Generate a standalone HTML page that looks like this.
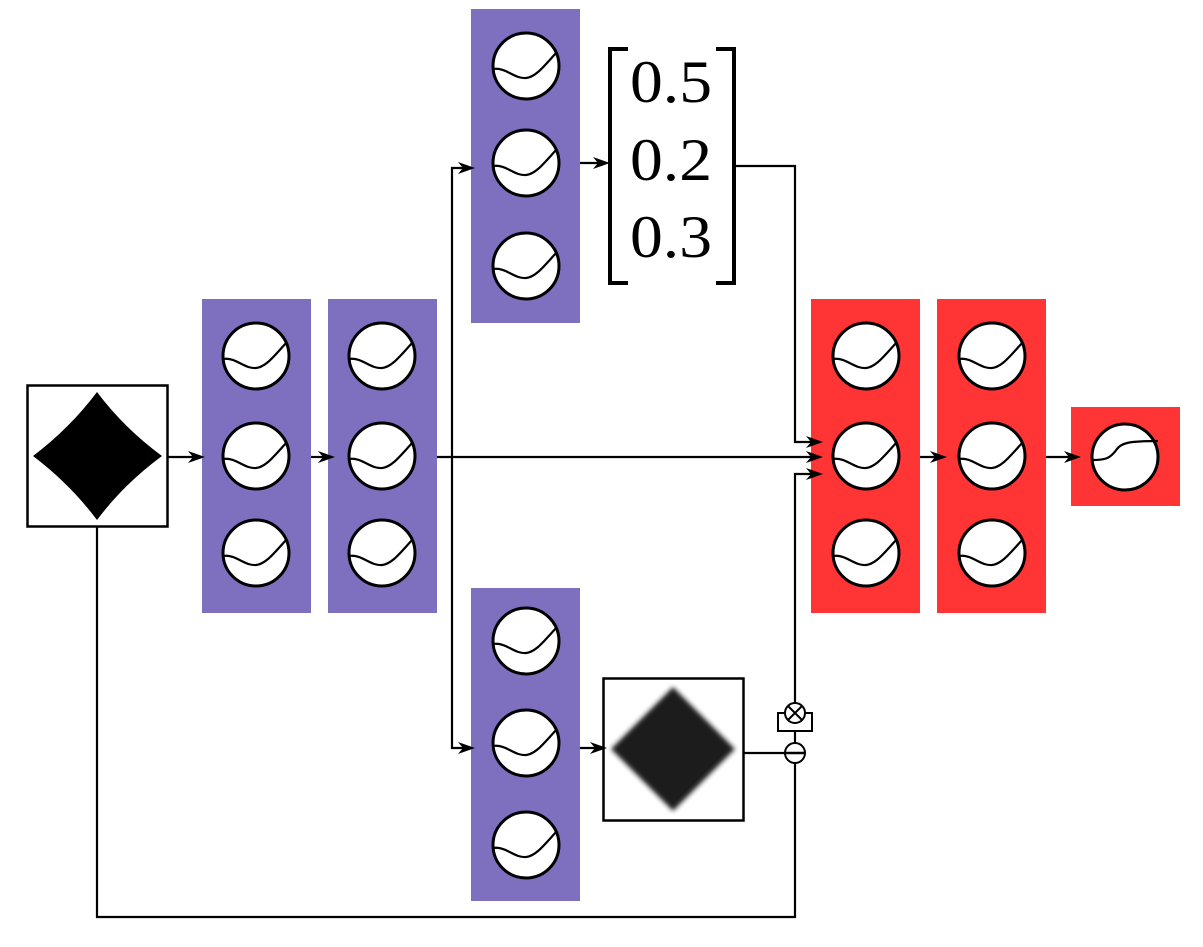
<!DOCTYPE html>
<html><head><style>html,body{margin:0;padding:0;background:#fff}svg{display:block}
.m{font-family:"Liberation Serif","DejaVu Serif",serif;font-size:60px;fill:#000}</style></head>
<body>
<svg width="1203" height="947" viewBox="0 0 1203 947" xmlns="http://www.w3.org/2000/svg">
<defs>
<path id="ah" d="M0,0 L-17,-6 L-12,0 L-17,6 Z" fill="#000"/>
<g id="n">
<circle cx="0" cy="0" r="33" fill="#fff" stroke="#000" stroke-width="3"/>
<path d="M-33,3 C-20,1 -12,13 0,12 C10,11 18,0 31,-14" fill="none" stroke="#000" stroke-width="2.2"/>
</g>
<filter id="bl" x="-20%" y="-20%" width="140%" height="140%"><feGaussianBlur stdDeviation="2.5"/></filter>
</defs>

<rect x="202" y="299" width="109" height="314" fill="#7f6fbf"/>
<rect x="328" y="299" width="109" height="314" fill="#7f6fbf"/>
<rect x="471" y="9" width="109" height="314" fill="#7f6fbf"/>
<rect x="471" y="588" width="109" height="313" fill="#7f6fbf"/>
<rect x="811" y="299" width="109" height="314" fill="#ff3535"/>
<rect x="937" y="299" width="109" height="314" fill="#ff3535"/>
<rect x="1071" y="407" width="109" height="99" fill="#ff3535"/>

<use href="#n" x="256" y="356"/><use href="#n" x="256" y="456"/><use href="#n" x="256" y="553"/>
<use href="#n" x="382" y="356"/><use href="#n" x="382" y="456"/><use href="#n" x="382" y="553"/>
<use href="#n" x="526" y="66"/><use href="#n" x="526" y="163"/><use href="#n" x="526" y="266"/>
<use href="#n" x="526" y="641"/><use href="#n" x="526" y="743"/><use href="#n" x="526" y="845"/>
<use href="#n" x="866" y="356"/><use href="#n" x="866" y="456"/><use href="#n" x="866" y="553"/>
<use href="#n" x="992" y="356"/><use href="#n" x="992" y="456"/><use href="#n" x="992" y="553"/>
<circle cx="1125" cy="457" r="33" fill="#fff" stroke="#000" stroke-width="3"/>
<path d="M-33,3 C-20,3 -15,2 -8,-8 C-3,-15 8,-16 33,-16" transform="translate(1125,457)" fill="none" stroke="#000" stroke-width="2.2"/>

<rect x="27.5" y="385.5" width="140" height="141" fill="#fff" stroke="#000" stroke-width="2.5"/>
<path d="M97,392 Q124,428 162,456 Q124,484 97,520 Q70,484 33,456 Q70,428 97,392 Z" fill="#000"/>

<rect x="603.5" y="678.5" width="140" height="142" fill="#fff" stroke="#000" stroke-width="2.5"/>
<path d="M673,687 L735,749 L673,811 L611,749 Z" fill="#1e1e1e" filter="url(#bl)"/>

<path d="M628,49 L610,49 L610,283 L628,283" fill="none" stroke="#000" stroke-width="4"/>
<path d="M716,49 L734,49 L734,283 L716,283" fill="none" stroke="#000" stroke-width="4"/>
<text class="m" x="630" y="102" textLength="82" lengthAdjust="spacingAndGlyphs">0.5</text>
<text class="m" x="630" y="180" textLength="82" lengthAdjust="spacingAndGlyphs">0.2</text>
<text class="m" x="630" y="257" textLength="82" lengthAdjust="spacingAndGlyphs">0.3</text>

<g fill="none" stroke="#000" stroke-width="2.2">
<line x1="167" y1="457" x2="195" y2="457"/>
<line x1="311" y1="457" x2="325" y2="457"/>
<line x1="437" y1="457" x2="812" y2="457"/>
<path d="M452,457 L452,168 L465,168"/>
<path d="M452,457 L452,748 L465,748"/>
<line x1="580" y1="163" x2="600" y2="163"/>
<line x1="580" y1="748" x2="597" y2="748"/>
<path d="M735,166 L795,166 L795,442 L812,442"/>
<path d="M795,703 L795,474 L812,474"/>
<line x1="743" y1="753" x2="785" y2="753"/>
<path d="M795,763 L795,917 L97,917 L97,527"/>
<line x1="795" y1="731" x2="795" y2="743"/>
<line x1="920" y1="457" x2="937" y2="457"/>
<line x1="1046" y1="457" x2="1071" y2="457"/>
</g>
<use href="#ah" x="205" y="457"/>
<use href="#ah" x="335" y="457"/>
<use href="#ah" x="823" y="457"/>
<use href="#ah" x="475" y="168"/>
<use href="#ah" x="475" y="748"/>
<use href="#ah" x="610" y="163"/>
<use href="#ah" x="607" y="748"/>
<use href="#ah" x="823" y="442"/>
<use href="#ah" x="823" y="474"/>
<use href="#ah" x="947" y="457"/>
<use href="#ah" x="1081" y="457"/>

<rect x="778" y="713" width="34" height="18" fill="#fff" stroke="#000" stroke-width="2"/>
<circle cx="795" cy="713" r="10" fill="#fff" stroke="#000" stroke-width="2"/>
<path d="M788,706 L802,720 M802,706 L788,720" stroke="#000" stroke-width="2"/>
<circle cx="795" cy="753" r="10" fill="#fff" stroke="#000" stroke-width="2"/>
<line x1="785" y1="753" x2="805" y2="753" stroke="#000" stroke-width="2.5"/>
</svg>
</body></html>
